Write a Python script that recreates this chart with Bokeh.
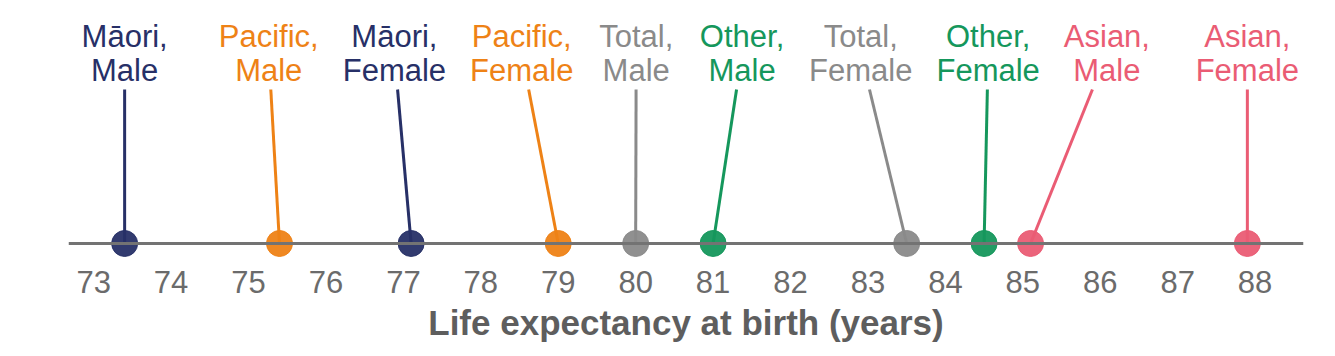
from bokeh.plotting import figure
from bokeh.models import Range1d, FixedTicker, Span, ColumnDataSource
from bokeh.embed import file_html
from bokeh.resources import INLINE
from bokeh.core.properties import value

# ---- data ----
groups = ["Māori", "Pacific", "Māori", "Pacific", "Total", "Other", "Total", "Other", "Asian", "Asian"]
sexes = ["Male", "Male", "Female", "Female", "Male", "Male", "Female", "Female", "Male", "Female"]
life_exp = [73.4, 75.4, 77.1, 79.0, 80.0, 81.0, 83.5, 84.5, 85.1, 87.9]
tick_values = [73, 74, 75, 76, 77, 78, 79, 80, 81, 82, 83, 84, 85, 86, 87, 88]
axis_title = "Life expectancy at birth (years)"
group_colors = {"Māori": "#273067", "Pacific": "#ee8216", "Total": "#8a8a8a",
                "Other": "#15975c", "Asian": "#ea5c74"}

# ---- layout ----
W, H = 1335, 356
LEFT, RIGHT, BOTTOM = 68, 32, 98
FONT = "Liberation Sans"
LABEL_PX = 31
PAD_PX = 24
AXIS_Y = 0
Y_LO, Y_HI = -15, 243
LINE1_Y, LINE2_Y = 207, 173
SEG_TOP = 154
LABEL_CY = 190

span = max(life_exp) - min(life_exp)
x_lo = min(life_exp) - 0.05 * span
x_hi = max(life_exp) + 0.05 * span
scale = (W - LEFT - RIGHT) / (x_hi - x_lo)  # px per year

# approximate Arial/Liberation Sans advance widths (em)
CW = {"M": .833, "ā": .556, "o": .556, "r": .333, "i": .222, ",": .278, "a": .556,
      "l": .222, "e": .556, "P": .667, "c": .5, "f": .278, "F": .611, "m": .833,
      "T": .611, "t": .278, "O": .778, "h": .556, "A": .667, "s": .5, "n": .556}

def text_w(s):
    return sum(CW.get(ch, .556) for ch in s) * LABEL_PX

line1 = [g + "," for g in groups]
line2 = sexes
widths = [max(text_w(a), text_w(b)) for a, b in zip(line1, line2)]

def spread(targets, seps):
    offs = [0.0]
    for s in seps:
        offs.append(offs[-1] + s)
    vals = [t - o for t, o in zip(targets, offs)]
    blocks = []
    for v in vals:
        blocks.append([v, 1])
        while len(blocks) > 1 and blocks[-2][0] > blocks[-1][0]:
            m2, c2 = blocks.pop()
            m1, c1 = blocks.pop()
            blocks.append([(m1 * c1 + m2 * c2) / (c1 + c2), c1 + c2])
    z = []
    for m, c in blocks:
        z += [m] * c
    return [zi + o for zi, o in zip(z, offs)]

order = sorted(range(len(life_exp)), key=lambda i: life_exp[i])
seps = [((widths[order[k]] + widths[order[k + 1]]) / 2 + PAD_PX) / scale for k in range(len(order) - 1)]
pos_sorted = spread([life_exp[i] for i in order], seps)
label_x = [0.0] * len(life_exp)
for k, i in enumerate(order):
    label_x[i] = pos_sorted[k]

colors = [group_colors[g] for g in groups]
frac = (LABEL_CY - SEG_TOP) / LABEL_CY
seg_x0 = [lx + (dx - lx) * frac for lx, dx in zip(label_x, life_exp)]

src = ColumnDataSource(dict(
    x=life_exp, y=[AXIS_Y] * len(life_exp), lx=label_x, sx=seg_x0,
    sy=[SEG_TOP] * len(life_exp), l1=line1, l2=line2, color=colors,
    y1=[LINE1_Y] * len(life_exp), y2=[LINE2_Y] * len(life_exp),
))

p = figure(width=W, height=H, output_backend="svg", toolbar_location=None,
           x_range=Range1d(x_lo, x_hi), y_range=Range1d(Y_LO, Y_HI),
           min_border_left=LEFT, min_border_right=RIGHT, min_border_top=0,
           min_border_bottom=BOTTOM)
p.outline_line_color = None
p.grid.visible = False
p.yaxis.visible = False
p.background_fill_color = "white"
p.border_fill_color = "white"

xa = p.xaxis[0]
xa.ticker = FixedTicker(ticks=tick_values)
xa.axis_line_color = None
xa.major_tick_line_color = None
xa.minor_tick_line_color = None
xa.major_label_text_font = FONT
xa.major_label_text_font_size = "31px"
xa.major_label_text_color = "#6b6b6b"
xa.major_label_standoff = 6
xa.axis_label = axis_title
xa.axis_label_text_font = FONT
xa.axis_label_text_font_size = "35px"
xa.axis_label_text_font_style = "bold"
xa.axis_label_text_color = "#5e5e5e"
xa.axis_label_standoff = 7

p.add_layout(Span(location=AXIS_Y, dimension="width", line_color="#737373", line_width=3))

p.scatter("x", "y", source=src, size=26, fill_color="color", line_color="color", fill_alpha=0.95, line_alpha=0.95)
p.segment("sx", "sy", "x", "y", source=src, line_color="color", line_width=3)
p.text("lx", "y1", text="l1", source=src, text_align="center", text_baseline="alphabetic",
       text_font=value(FONT), text_font_size=f"{LABEL_PX}px", text_color="color")
p.text("lx", "y2", text="l2", source=src, text_align="center", text_baseline="alphabetic",
       text_font=value(FONT), text_font_size=f"{LABEL_PX}px", text_color="color")

open("out.html", "w").write(file_html(p, INLINE))
